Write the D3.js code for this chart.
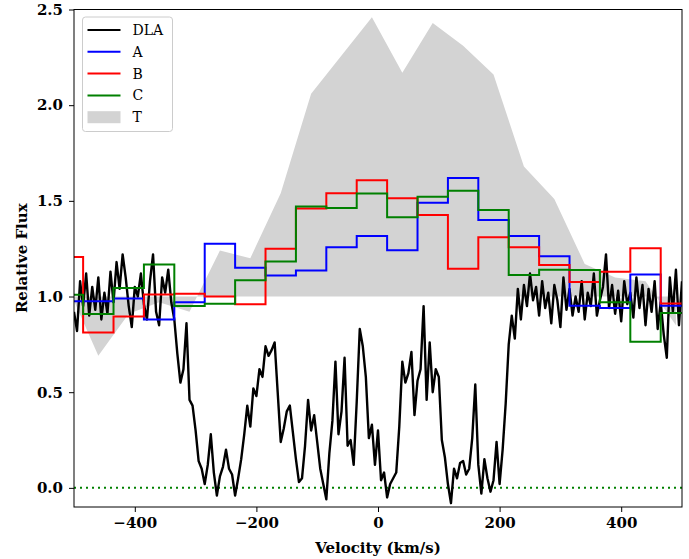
<!DOCTYPE html>
<html>
<head>
<meta charset="utf-8">
<script src="https://cdn.jsdelivr.net/npm/d3@7"></script>
<style>
  body { margin: 0; background: #fff; }
  text { font-family: "DejaVu Serif", serif; }
</style>
</head>
<body>
<div id="chart"></div>
<script>
// bin edges of the A/B/C step models (km/s)
var binEdges = [-535, -485, -435, -385, -335, -285, -235, -185, -135, -85, -35,
                15, 65, 115, 165, 215, 265, 315, 365, 415, 465, 515];
var seriesA = [0.975, 0.975, 0.99, 0.88, 0.97, 1.276, 1.15, 1.11, 1.136, 1.258, 1.316,
               1.242, 1.49, 1.62, 1.40, 1.316, 1.21, 0.952, 0.94, 1.115, 0.952];
var seriesB = [1.206, 0.812, 0.895, 1.01, 1.014, 1.0, 0.96, 1.25, 1.46, 1.54, 1.607,
               1.513, 1.426, 1.145, 1.31, 1.257, 1.165, 1.076, 1.13, 1.252, 0.964];
var seriesC = [1.009, 0.909, 1.045, 1.167, 0.95, 0.962, 1.085, 1.183, 1.47, 1.462, 1.539,
               1.414, 1.522, 1.553, 1.452, 1.112, 1.14, 1.138, 0.97, 0.763, 0.914];

// T envelope (filled between 1 and T)
var tVelocity = [-510, -460, -410, -360, -310, -260, -210, -160, -110, -60, -10,
                 40, 90, 140, 190, 240, 290, 340, 390, 440, 490];
var tValues = [1.05, 0.69, 0.91, 0.97, 0.92, 1.24, 1.20, 1.54, 2.06, 2.26, 2.46,
               2.17, 2.43, 2.31, 2.16, 1.68, 1.51, 1.17, 1.10, 1.08, 0.85];

// DLA spectrum, sampled every 5 km/s from -500 to 500
var dlaStart = -500, dlaStep = 5;
var dlaFlux = [
  0.92, 0.82, 1.08, 0.95, 1.12, 0.90, 1.05, 0.93, 1.10, 0.88,
  1.02, 0.91, 1.13, 0.97, 1.18, 1.04, 1.22, 1.10, 0.95, 0.84,
  1.05, 1.00, 1.12, 0.96, 0.88, 1.08, 1.22, 0.92, 0.85, 1.10,
  1.02, 1.14, 0.97, 0.88, 0.70, 0.55, 0.62, 0.86, 0.46, 0.43,
  0.30, 0.14, 0.10, 0.02, 0.12, 0.28, 0.08, -0.04, 0.06, 0.11,
  0.20, 0.10, 0.07, -0.04, 0.05, 0.15, 0.28, 0.43, 0.32, 0.52,
  0.48, 0.62, 0.58, 0.74, 0.69, 0.72, 0.76, 0.50, 0.24, 0.31,
  0.40, 0.43, 0.29, 0.15, 0.03, 0.05, 0.22, 0.46, 0.30, 0.38,
  0.24, 0.10, 0.02, -0.06, 0.18, 0.35, 0.66, 0.28, 0.40, 0.68,
  0.22, 0.25, 0.12, 0.45, 0.83, 0.74, 0.58, 0.26, 0.33, 0.12,
  0.30, 0.04, 0.08, -0.05, 0.02, 0.05, 0.08, 0.32, 0.66, 0.55,
  0.60, 0.71, 0.38, 0.56, 0.62, 0.95, 0.46, 0.76, 0.50, 0.62,
  0.58, 0.25, 0.16, 0.02, -0.08, 0.10, 0.05, 0.13, 0.14, 0.07,
  0.10, 0.26, 0.54, 0.12, -0.03, 0.15, 0.05, -0.02, 0.04, 0.24,
  0.02, 0.20, 0.44, 0.75, 0.90, 0.78, 1.04, 0.88, 1.06, 0.95,
  1.12, 0.98, 1.05, 0.90, 1.08, 0.94, 1.02, 0.86, 1.06, 0.98,
  0.84, 1.10, 0.93, 1.04, 0.90, 1.00, 0.92, 1.08, 0.88, 1.02,
  0.95, 1.12, 0.90, 0.98, 1.05, 1.22, 0.94, 1.06, 0.91, 1.03,
  0.87, 1.08, 0.96, 1.02, 0.89, 1.10, 0.94, 1.06, 0.85, 1.04,
  0.92, 1.08, 0.83, 0.97, 0.80, 0.68, 1.10, 0.92, 1.14, 0.85,
  1.08
];

var xTicks = [-400, -200, 0, 200, 400];
var yTicks = [0, 0.5, 1.0, 1.5, 2.0, 2.5];
var legendLabels = ["DLA", "A", "B", "C", "T"];

// set the dimensions and margins of the graph
var margin = {top: 9.5, right: 7, bottom: 52, left: 74},
    width = 689 - margin.left - margin.right,
    height = 559 - margin.top - margin.bottom;

var svg = d3.select("#chart")
  .append("svg")
    .attr("width", 689)
    .attr("height", 559)
  .append("g")
    .attr("transform", "translate(" + margin.left + "," + margin.top + ")");

var x = d3.scaleLinear().domain([-500, 500]).range([0, width]);
var y = d3.scaleLinear().domain([-0.1, 2.5]).range([height, 0]);

svg.append("clipPath").attr("id", "clip")
  .append("rect").attr("width", width).attr("height", height);

var plot = svg.append("g").attr("clip-path", "url(#clip)");

// T filled envelope
var tData = tVelocity.map(function(v, i) { return [v, tValues[i]]; });
plot.append("path")
  .datum(tData)
  .attr("fill", "#d3d3d3")
  .attr("d", d3.area()
    .x(function(d) { return x(d[0]); })
    .y0(y(1))
    .y1(function(d) { return y(d[1]); }));

// zero level
plot.append("line")
  .attr("x1", x(-500)).attr("x2", x(500))
  .attr("y1", y(0)).attr("y2", y(0))
  .attr("stroke", "green")
  .attr("stroke-width", 2)
  .attr("stroke-dasharray", "2,4");

// DLA spectrum
var dlaData = dlaFlux.map(function(f, i) { return [dlaStart + i * dlaStep, f]; });
plot.append("path")
  .datum(dlaData)
  .attr("fill", "none")
  .attr("stroke", "black")
  .attr("stroke-width", 2.4)
  .attr("stroke-linejoin", "round")
  .attr("d", d3.line()
    .x(function(d) { return x(d[0]); })
    .y(function(d) { return y(d[1]); }));

// step models
var stepLine = d3.line()
  .curve(d3.curveStepAfter)
  .x(function(d) { return x(d[0]); })
  .y(function(d) { return y(d[1]); });

function stepData(vals) {
  var pts = vals.map(function(v, i) { return [binEdges[i], v]; });
  pts.push([binEdges[binEdges.length - 1], vals[vals.length - 1]]);
  return pts;
}

[[seriesA, "blue"], [seriesB, "red"], [seriesC, "green"]].forEach(function(s) {
  plot.append("path")
    .datum(stepData(s[0]))
    .attr("fill", "none")
    .attr("stroke", s[1])
    .attr("stroke-width", 2)
    .attr("d", stepLine);
});

// axes
var xAxis = svg.append("g")
  .attr("transform", "translate(0," + height + ")")
  .call(d3.axisBottom(x).tickValues(xTicks).tickSize(5).tickPadding(5)
    .tickFormat(function(d) { return d < 0 ? "\u2212" + Math.abs(d) : d; }));
var yAxis = svg.append("g")
  .call(d3.axisLeft(y).tickValues(yTicks).tickSize(5).tickPadding(6)
    .tickFormat(d3.format(".1f")));

[xAxis, yAxis].forEach(function(ax) {
  ax.select(".domain").remove();
  ax.selectAll("text")
    .style("font-family", "'DejaVu Serif', serif")
    .style("font-size", "15px")
    .style("font-weight", "bold")
    .attr("fill", "black");
  ax.selectAll("line").attr("stroke", "black");
});

// frame
svg.append("rect")
  .attr("width", width).attr("height", height)
  .attr("fill", "none").attr("stroke", "black").attr("stroke-width", 1);

// axis labels
svg.append("text")
  .attr("text-anchor", "middle")
  .attr("x", width / 2)
  .attr("y", height + 46)
  .style("font-size", "15px")
  .style("font-weight", "bold")
  .text("Velocity (km/s)");

svg.append("text")
  .attr("text-anchor", "middle")
  .attr("transform", "rotate(-90)")
  .attr("x", -height / 2)
  .attr("y", -47)
  .style("font-size", "15px")
  .style("font-weight", "bold")
  .text("Relative Flux");

// legend
var legend = svg.append("g").attr("transform", "translate(8.5,7.5)");
legend.append("rect")
  .attr("width", 90).attr("height", 114.5)
  .attr("rx", 3)
  .attr("fill", "white").attr("fill-opacity", 0.8)
  .attr("stroke", "#cccccc");

var legendColors = ["black", "blue", "red", "green", "#d3d3d3"];
legendLabels.forEach(function(lab, i) {
  var cy = 13 + i * 21.8;
  if (lab === "T") {
    legend.append("rect")
      .attr("x", 5).attr("y", cy - 6)
      .attr("width", 33).attr("height", 12)
      .attr("fill", legendColors[i]);
  } else {
    legend.append("line")
      .attr("x1", 5).attr("x2", 38)
      .attr("y1", cy).attr("y2", cy)
      .attr("stroke", legendColors[i])
      .attr("stroke-width", 2);
  }
  legend.append("text")
    .attr("x", 50)
    .attr("y", cy + 5)
    .style("font-size", "14px")
    .text(lab);
});
</script>
</body>
</html>
